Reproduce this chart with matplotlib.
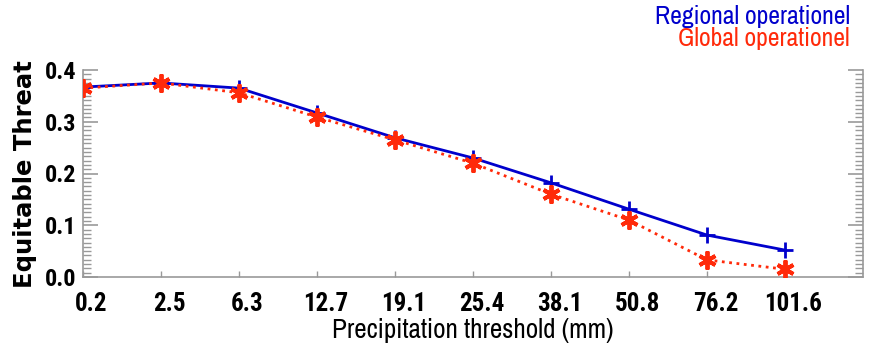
import matplotlib
matplotlib.use("Agg")
import matplotlib.pyplot as plt
from matplotlib.ticker import AutoMinorLocator
from matplotlib.transforms import ScaledTranslation

thresholds = ["0.2", "2.5", "6.3", "12.7", "19.1", "25.4", "38.1", "50.8", "76.2", "101.6"]
regional = [0.367, 0.375, 0.365, 0.317, 0.269, 0.230, 0.182, 0.131, 0.081, 0.052]
global_op = [0.365, 0.375, 0.356, 0.309, 0.265, 0.220, 0.160, 0.110, 0.033, 0.015]
y_ticks = [0.0, 0.1, 0.2, 0.3, 0.4]
y_ticklabels = ["0.0", "0.1", "0.2", "0.3", "0.4"]

narrow = ['Archivo Narrow', 'Roboto Condensed', 'DejaVu Sans']
boldnarrow = ['Roboto Condensed', 'Archivo Narrow', 'DejaVu Sans']
plt.rcParams['font.family'] = narrow

fig = plt.figure(figsize=(8.69, 3.5), dpi=100)
ax = fig.add_axes([83/869, 1-277/350, 780/869, 207/350])

x = list(range(len(thresholds)))
blue = "#0000cc"
red = "#ff2a0a"
ax.plot(x, regional, color=blue, lw=2, marker='+', ms=12, mew=2, zorder=3)
ax.plot(x, global_op, color=red, lw=2, ls=':', marker=(6, 2, 0), ms=13, mew=2.8, zorder=4)

ax.set_xlim(0, 10)
ax.set_ylim(0, 0.4)
ax.set_xticks(x)
ax.set_xticklabels(thresholds, fontsize=18, fontweight='bold', family=boldnarrow)
ax.set_yticks(y_ticks)
ax.set_yticklabels(y_ticklabels, fontsize=17.5, fontweight='bold', family=boldnarrow)
ax.yaxis.set_minor_locator(AutoMinorLocator(12))

gray = "#999999"
for s in ['left', 'bottom', 'right']:
    ax.spines[s].set_color(gray)
    ax.spines[s].set_linewidth(1.2)
ax.spines['top'].set_visible(False)

ax.tick_params(axis='y', which='major', direction='in', length=11, width=1.2,
               color=gray, left=True, right=True, pad=5)
ax.tick_params(axis='y', which='minor', direction='in', length=6, width=1,
               color=gray, left=True, right=True)
ax.tick_params(axis='x', which='major', direction='in', length=4, width=1,
               color=gray, pad=11, top=False)

offset = ScaledTranslation(6/72, 0, fig.dpi_scale_trans)
for lab in ax.get_xticklabels():
    lab.set_transform(lab.get_transform() + offset)

ax.set_xlabel("Precipitation threshold (mm)", fontsize=19.5, labelpad=1)
fig.text(25/869, 1-174/350, "Equitable Threat", rotation=90, fontsize=17.5,
         fontweight='bold', family=['DejaVu Sans'],
         ha='center', va='center')

fig.text(850/869, 1-16/350, "Regional operationel", color=blue, fontsize=18.5,
         ha='right', va='center')
fig.text(850/869, 1-38/350, "Global operationel", color=red, fontsize=18.5,
         ha='right', va='center')

fig.savefig("out.png", dpi=100)
